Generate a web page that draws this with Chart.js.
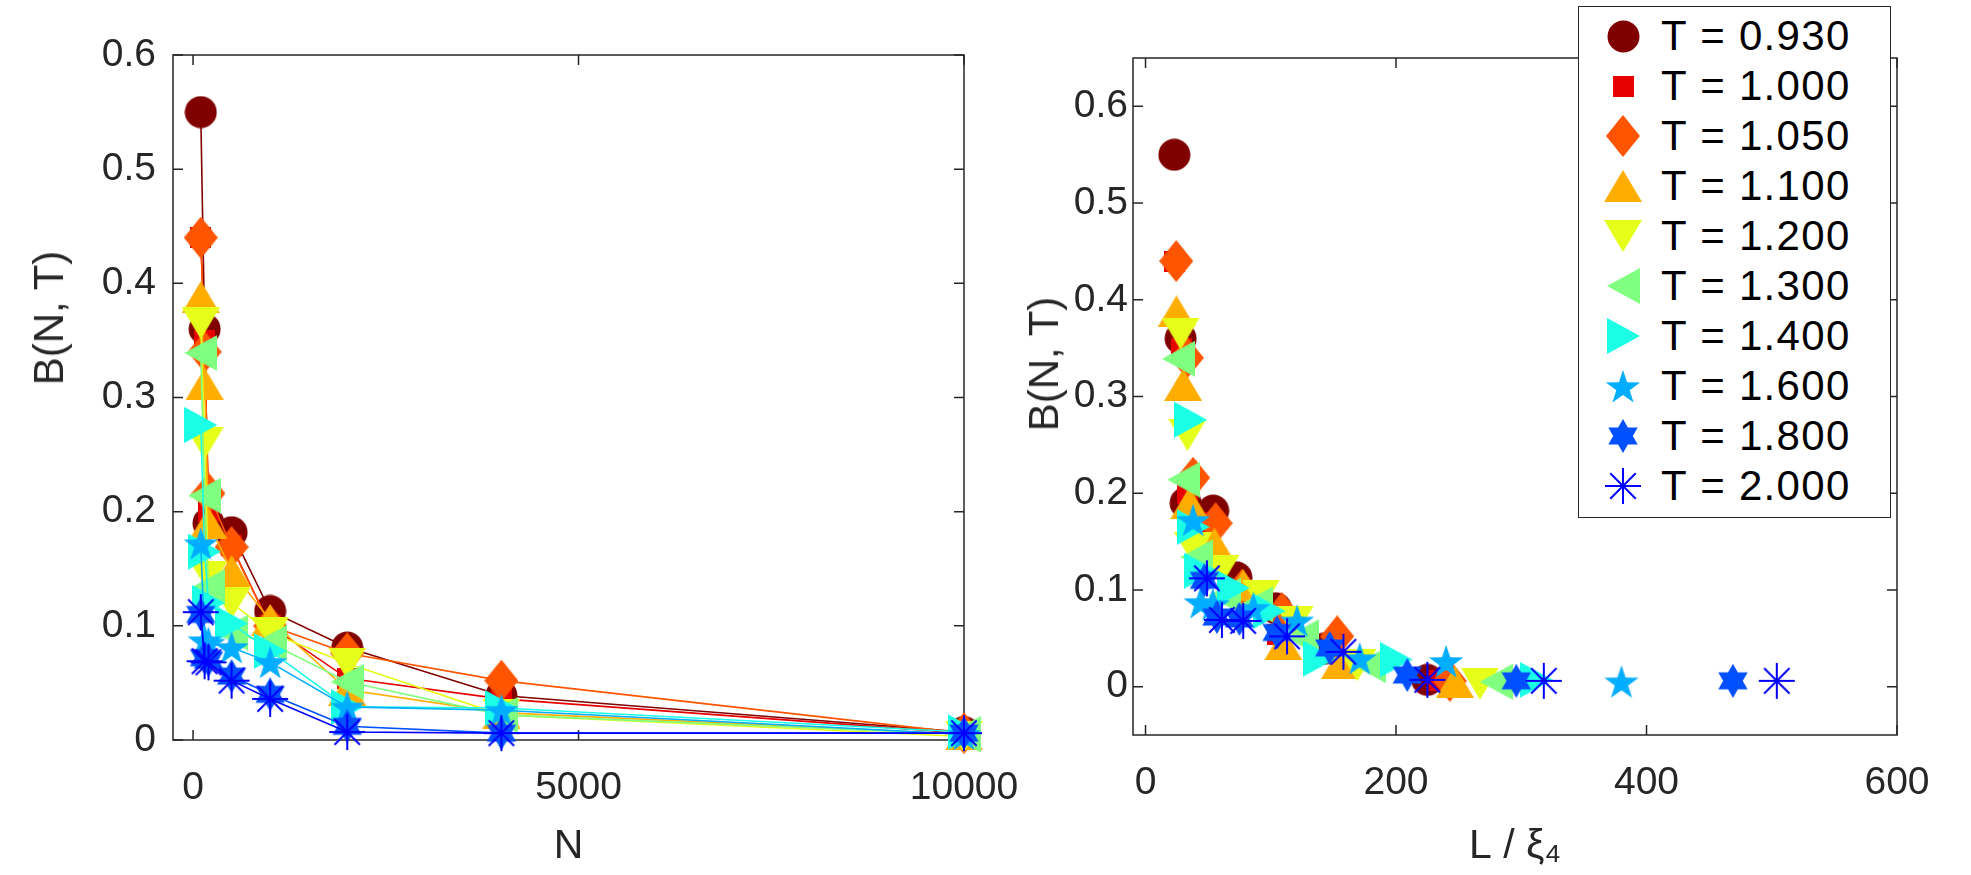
<!DOCTYPE html>
<html>
<head>
<meta charset="utf-8">
<script src="https://cdn.jsdelivr.net/npm/chart.js@4.4.0/dist/chart.umd.min.js"></script>
<style>
  body { margin: 0; background: #fff; width: 1971px; height: 875px; overflow: hidden; position: relative; }
  #leftChart { position: absolute; left: 0; top: 0; }
  #rightChart { position: absolute; left: 1000px; top: 0; }
  .ytitle { position: absolute; transform: translate(-50%, -50%) rotate(-90deg); white-space: nowrap;
            font-family: 'Liberation Sans', Arial, sans-serif; font-size: 42px; color: #262626; }
  #legend { position: absolute; left: 1578px; top: 6px; width: 311px; height: 510px;
            border: 1.5px solid #262626; background: #fff; z-index: 2; }
  .legend-item { position: absolute; left: 0; width: 311px; height: 50px; }
  .legend-item canvas { position: absolute; }
  .legend-item span { position: absolute; left: 82px; top: 0; line-height: 50px;
                      font-family: 'Liberation Sans', Arial, sans-serif; font-size: 42px;
                      letter-spacing: 1.3px; color: #000; white-space: pre; }
</style>
</head>
<body>
<canvas id="leftChart" width="1030" height="875"></canvas>
<canvas id="rightChart" width="971" height="875"></canvas>
<div class="ytitle" style="left:49px; top:318px;">B(N, T)</div>
<div class="ytitle" style="left:1044px; top:364px;">B(N, T)</div>
<div id="legend"></div>
<script>
// temperatures and system sizes
var temperatures = ['0.930', '1.000', '1.050', '1.100', '1.200', '1.300', '1.400', '1.600', '1.800', '2.000'];
var sizesN = [100, 150, 200, 500, 1000, 2000, 4000, 10000];

// B(N,T), one array per temperature
var binderT093 = [0.550, 0.360, 0.190, 0.182, 0.113, 0.081, 0.039, 0.007];
var binderT100 = [0.440, 0.350, 0.200, 0.170, 0.100, 0.054, 0.036, 0.006];
var binderT105 = [0.440, 0.340, 0.216, 0.169, 0.100, 0.076, 0.052, 0.006];
var binderT110 = [0.388, 0.312, 0.190, 0.148, 0.105, 0.044, 0.024, 0.005];
var binderT120 = [0.365, 0.260, 0.143, 0.120, 0.094, 0.067, 0.022, 0.003];
var binderT130 = [0.339, 0.214, 0.134, 0.094, 0.085, 0.051, 0.022, 0.005];
var binderT140 = [0.276, 0.165, 0.120, 0.102, 0.078, 0.029, 0.028, 0.007];
var binderT160 = [0.172, 0.087, 0.085, 0.081, 0.068, 0.029, 0.026, 0.005];
var binderT180 = [0.110, 0.072, 0.070, 0.056, 0.040, 0.012, 0.006, 0.006];
var binderT200 = [0.112, 0.069, 0.068, 0.052, 0.036, 0.007, 0.006, 0.006];

// L / xi_4
var scaledT093 = [23, 28, 32, 54, 72.5, 104, 142, 225];
var scaledT100 = [23.5, 28.8, 33.2, 52.5, 74.3, 105, 148.6, 235];
var scaledT105 = [24.5, 33, 38, 56, 77, 109, 153, 243];
var scaledT110 = [24.7, 30, 35, 55, 78, 110, 155, 247];
var scaledT120 = [28, 33.5, 38, 60, 92, 119, 169, 267];
var scaledT130 = [26.3, 30.5, 41, 63, 88.5, 125, 179, 280];
var scaledT140 = [36, 38, 44, 70, 98.7, 139, 200, 312];
var scaledT160 = [38, 44, 53.7, 86, 121, 171, 240, 380];
var scaledT180 = [47, 57, 75, 105, 147, 209, 296, 469];
var scaledT200 = [49, 61, 78, 113, 158, 225, 318, 504];

// tick labels
var leftXTicks = [0, 5000, 10000];
var leftYTicks = [0, 0.1, 0.2, 0.3, 0.4, 0.5, 0.6];
var rightXTicks = [0, 200, 400, 600];
var rightYTicks = [0, 0.1, 0.2, 0.3, 0.4, 0.5, 0.6];

var binders = [binderT093, binderT100, binderT105, binderT110, binderT120, binderT130, binderT140, binderT160, binderT180, binderT200];
var scaled = [scaledT093, scaledT100, scaledT105, scaledT110, scaledT120, scaledT130, scaledT140, scaledT160, scaledT180, scaledT200];

var colors = ['#800000', '#e60000', '#ff5500', '#ffae00', '#e6ff1a', '#80ff80', '#1affe6', '#00adff', '#0050ff', '#0000ff'];
var shapes = ['circle', 'square', 'diamond', 'triUp', 'triDown', 'triLeft', 'triRight', 'star', 'hexagram', 'asterisk'];

var fontFamily = "'Liberation Sans', Arial, sans-serif";
var axisColor = '#262626';

// marker glyphs drawn once into small canvases
function makeMarker(shape, color) {
    var c = document.createElement('canvas');
    var w = 38, h = 38;
    if (shape === 'circle') { w = h = 33; }
    if (shape === 'square') { w = h = 21; }
    if (shape === 'diamond') { w = 34; h = 42; }
    if (shape === 'triUp' || shape === 'triDown') { w = 38; h = 32; }
    if (shape === 'triLeft' || shape === 'triRight') { w = 33; h = 36; }
    if (shape === 'star') { w = 36; h = 35; }
    if (shape === 'hexagram') { w = 34; h = 34; }
    c.width = w; c.height = h;
    var g = c.getContext('2d');
    g.fillStyle = color;
    g.strokeStyle = color;
    var cx = w / 2, cy = h / 2;
    g.beginPath();
    if (shape === 'circle') {
        g.arc(cx, cy, 16, 0, Math.PI * 2);
    } else if (shape === 'square') {
        g.rect(0, 0, w, h);
    } else if (shape === 'diamond') {
        g.moveTo(cx, 0); g.lineTo(w, cy); g.lineTo(cx, h); g.lineTo(0, cy);
    } else if (shape === 'triUp') {
        g.moveTo(cx, 0); g.lineTo(w, h); g.lineTo(0, h);
    } else if (shape === 'triDown') {
        g.moveTo(0, 0); g.lineTo(w, 0); g.lineTo(cx, h);
    } else if (shape === 'triLeft') {
        g.moveTo(0, cy); g.lineTo(w, 0); g.lineTo(w, h);
    } else if (shape === 'triRight') {
        g.moveTo(0, 0); g.lineTo(w, cy); g.lineTo(0, h);
    } else if (shape === 'star') {
        for (var k = 0; k < 10; k++) {
            var r = k % 2 === 0 ? 18 : 7;
            var a = -Math.PI / 2 + k * Math.PI / 5;
            var px = cx + r * Math.cos(a), py = 19 + r * Math.sin(a);
            if (k === 0) g.moveTo(px, py); else g.lineTo(px, py);
        }
    } else if (shape === 'hexagram') {
        for (var k = 0; k < 12; k++) {
            var r = k % 2 === 0 ? 17 : 9.8;
            var a = -Math.PI / 2 + k * Math.PI / 6;
            var px = cx + r * Math.cos(a), py = cy + r * Math.sin(a);
            if (k === 0) g.moveTo(px, py); else g.lineTo(px, py);
        }
    }
    if (shape === 'asterisk') {
        g.lineWidth = 2;
        for (var k = 0; k < 4; k++) {
            var a = k * Math.PI / 4;
            g.moveTo(cx - 18 * Math.cos(a), cy - 18 * Math.sin(a));
            g.lineTo(cx + 18 * Math.cos(a), cy + 18 * Math.sin(a));
        }
        g.stroke();
    } else {
        g.closePath();
        g.fill();
    }
    return c;
}

var markers = shapes.map(function(s, i) { return makeMarker(s, colors[i]); });

// frame with inward ticks on all four sides, drawn under the data
var boxTicks = {
    id: 'boxTicks',
    beforeDatasetsDraw: function(chart) {
        var a = chart.chartArea, ctx = chart.ctx;
        var xs = chart.scales.x, ys = chart.scales.y;
        ctx.save();
        ctx.strokeStyle = axisColor;
        ctx.lineWidth = 1.5;
        ctx.strokeRect(a.left, a.top, a.right - a.left, a.bottom - a.top);
        ctx.beginPath();
        xs.ticks.forEach(function(t) {
            var p = xs.getPixelForValue(t.value);
            ctx.moveTo(p, a.bottom); ctx.lineTo(p, a.bottom - 10);
            ctx.moveTo(p, a.top); ctx.lineTo(p, a.top + 10);
        });
        ys.ticks.forEach(function(t) {
            var p = ys.getPixelForValue(t.value);
            ctx.moveTo(a.left, p); ctx.lineTo(a.left + 10, p);
            ctx.moveTo(a.right, p); ctx.lineTo(a.right - 10, p);
        });
        ctx.stroke();
        ctx.restore();
    }
};

function fixedTicks(values) {
    return function(scale) {
        scale.ticks = values.map(function(v) { return { value: v }; });
    };
}

function makeScales(xMin, xMax, xTicks, yMin, yMax, yTicks, xTitle, yWidth, xHeight, yPad) {
    var tickFont = { family: fontFamily, size: 39 };
    var titleFont = { family: fontFamily, size: 41 };
    return {
        x: {
            type: 'linear', min: xMin, max: xMax,
            afterBuildTicks: fixedTicks(xTicks),
            afterFit: function(s) { s.height = xHeight; s.paddingLeft = 0; s.paddingRight = 0; },
            grid: { display: false, drawTicks: false },
            border: { display: false },
            ticks: { font: tickFont, color: axisColor, padding: 25, maxRotation: 0,
                     callback: function(v) { return String(v); } },
            title: { display: true, text: xTitle, font: titleFont, color: axisColor, padding: { bottom: 4 } }
        },
        y: {
            type: 'linear', min: yMin, max: yMax,
            afterBuildTicks: fixedTicks(yTicks),
            afterFit: function(s) { s.width = yWidth; s.paddingTop = 0; s.paddingBottom = 0; },
            grid: { display: false, drawTicks: false },
            border: { display: false },
            ticks: { font: tickFont, color: axisColor, padding: yPad,
                     callback: function(v) { return String(v); } }
        }
    };
}

var baseOptions = {
    responsive: false,
    animation: false,
    events: [],
    plugins: { legend: { display: false }, tooltip: { enabled: false } }
};

var leftDatasets = temperatures.map(function(t, i) {
    return {
        label: 'T = ' + t,
        data: sizesN.map(function(n, j) { return { x: n, y: binders[i][j] }; }),
        showLine: true,
        borderColor: colors[i],
        backgroundColor: colors[i],
        borderWidth: 1.6,
        pointStyle: markers[i],
        pointRadius: 16,
        clip: false,
        order: temperatures.length - 1 - i
    };
});

var rightDatasets = temperatures.map(function(t, i) {
    return {
        label: 'T = ' + t,
        data: scaled[i].map(function(x, j) { return { x: x, y: binders[i][j] }; }),
        showLine: false,
        borderColor: colors[i],
        backgroundColor: colors[i],
        pointStyle: markers[i],
        pointRadius: 16,
        clip: false,
        order: temperatures.length - 1 - i
    };
});

new Chart(document.getElementById('leftChart').getContext('2d'), {
    type: 'scatter',
    data: { datasets: leftDatasets },
    options: Object.assign({}, baseOptions, {
        layout: { padding: { top: 55, right: 66, left: 0, bottom: 0 } },
        scales: makeScales(-260, 10000, leftXTicks, 0, 0.6, leftYTicks, 'N', 173, 135, 17)
    }),
    plugins: [boxTicks]
});

new Chart(document.getElementById('rightChart').getContext('2d'), {
    type: 'scatter',
    data: { datasets: rightDatasets },
    options: Object.assign({}, baseOptions, {
        layout: { padding: { top: 58, right: 74, left: 0, bottom: 0 } },
        scales: makeScales(-10, 600, rightXTicks, -0.05, 0.65, rightYTicks, 'L / ξ₄', 133, 140, 5)
    }),
    plugins: [boxTicks]
});

// legend box in the top right corner
var legend = document.getElementById('legend');
temperatures.forEach(function(t, i) {
    var item = document.createElement('div');
    item.className = 'legend-item';
    item.style.top = (4 + 50 * i) + 'px';
    var m = document.createElement('canvas');
    m.width = markers[i].width;
    m.height = markers[i].height;
    m.getContext('2d').drawImage(markers[i], 0, 0);
    m.style.left = (44 - m.width / 2) + 'px';
    m.style.top = (25 - m.height / 2) + 'px';
    var label = document.createElement('span');
    label.textContent = 'T = ' + t;
    item.appendChild(m);
    item.appendChild(label);
    legend.appendChild(item);
});
</script>
</body>
</html>
